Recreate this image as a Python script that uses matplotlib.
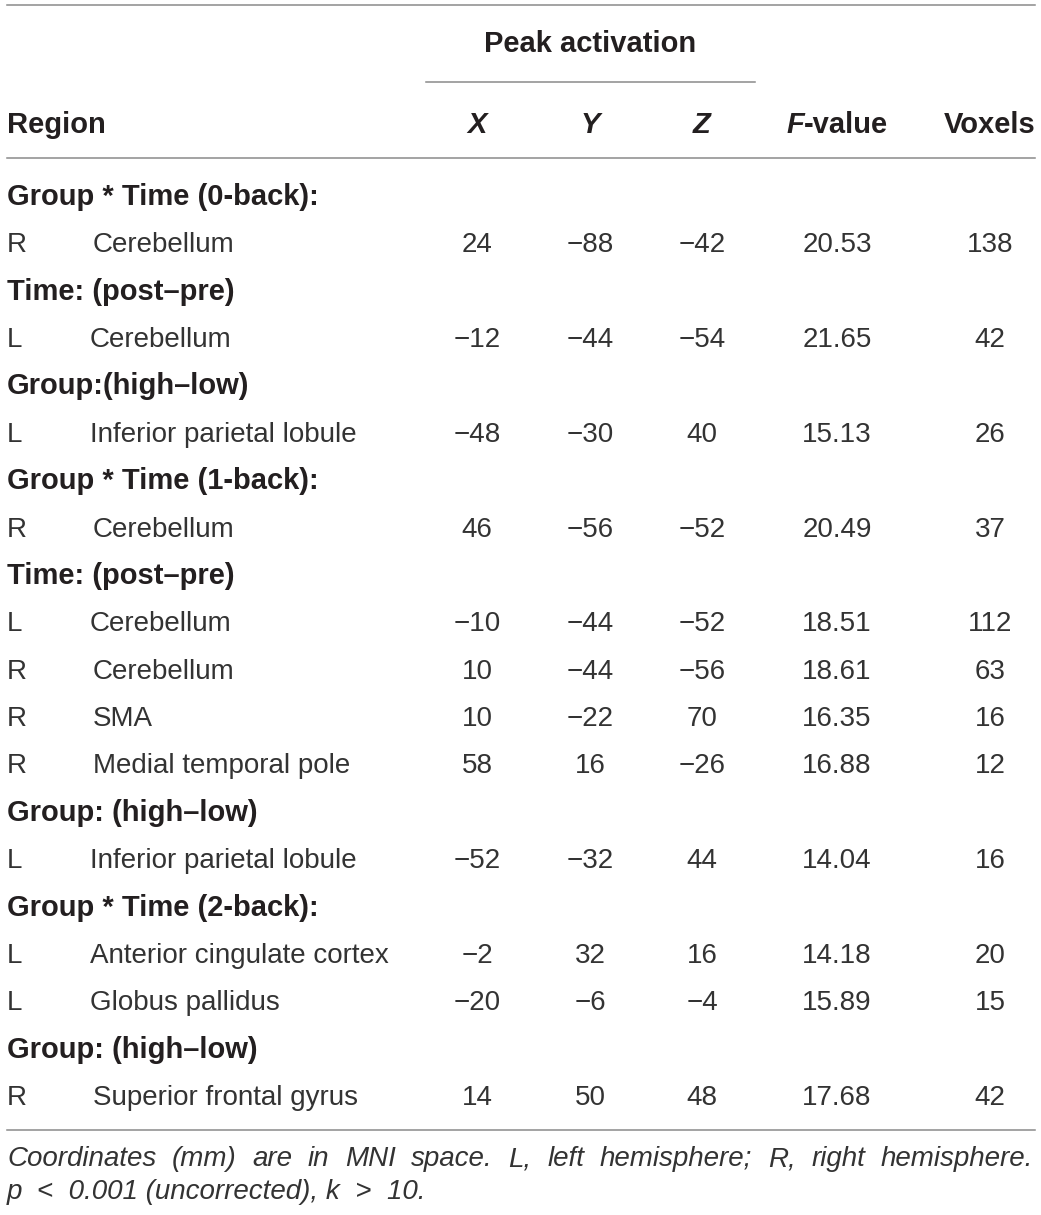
import matplotlib.pyplot as plt
from matplotlib.lines import Line2D

# table content
section_titles = {
    0: "Group * Time (0-back):",
    2: "Time: (post\u2013pre)",
    4: "Group:(high\u2013low)",
    6: "Group * Time (1-back):",
    8: "Time: (post\u2013pre)",
    13: "Group: (high\u2013low)",
    15: "Group * Time (2-back):",
    18: "Group: (high\u2013low)",
}
hemis = ["R", "L", "L", "R", "L", "R", "R", "R", "L", "L", "L", "R"]
regions = ["Cerebellum", "Cerebellum", "Inferior parietal lobule", "Cerebellum",
           "Cerebellum", "Cerebellum", "SMA", "Medial temporal pole",
           "Inferior parietal lobule", "Anterior cingulate cortex",
           "Globus pallidus", "Superior frontal gyrus"]
x_vals = ["24", "\u221212", "\u221248", "46", "\u221210", "10", "10", "58", "\u221252", "\u22122", "\u221220", "14"]
y_vals = ["\u221288", "\u221244", "\u221230", "\u221256", "\u221244", "\u221244", "\u221222", "16", "\u221232", "32", "\u22126", "50"]
z_vals = ["\u221242", "\u221254", "40", "\u221252", "\u221252", "\u221256", "70", "\u221226", "44", "16", "\u22124", "48"]
f_vals = ["20.53", "21.65", "15.13", "20.49", "18.51", "18.61", "16.35", "16.88", "14.04", "14.18", "15.89", "17.68"]
voxels = ["138", "42", "26", "37", "112", "63", "16", "12", "16", "20", "15", "42"]

W, H = 1041, 1215
fig = plt.figure(figsize=(W / 100, H / 100), dpi=100)
fig.patch.set_facecolor("white")
plt.rcParams["font.family"] = ["Liberation Sans", "DejaVu Sans"]

TXT = "#231f20"
TXT_LIGHT = "#333333"
LINE = "#8a8a8a"
FS = 20
FS_BOLD = 21


def fx(px):
    return px / W


def fy(py):
    return 1 - py / H


def hline(x0, x1, y, lw=1.1):
    fig.add_artist(Line2D([fx(x0), fx(x1)], [fy(y), fy(y)], color=LINE, lw=lw))


def put(x, y, s, ha="left", bold=False, **kw):
    kw.setdefault("fontsize", FS_BOLD if bold else FS)
    kw.setdefault("color", TXT if bold else TXT_LIGHT)
    return fig.text(fx(x), fy(y), s, ha=ha, va="baseline",
                    fontweight="bold" if bold else "normal", **kw)


col_x = [477, 590, 702, 837, 990]

# header
hline(7, 1035, 5)
put(590, 52, "Peak activation", ha="center", bold=True)
hline(426, 755, 82)
put(7, 133, "Region", bold=True)
for cx, lab in zip(col_x[:3], ["X", "Y", "Z"]):
    put(cx, 133, lab, ha="center", bold=True, fontstyle="italic")
f_a = put(0, 133, "F", bold=True, fontstyle="italic")
f_b = put(0, 133, "-value", bold=True)
put(990, 133, "Voxels", ha="center", bold=True)
hline(7, 1035, 158)

row_y0, row_dy = 205, 47.37
data_i = 0
for r in range(20):
    y = row_y0 + r * row_dy
    if r in section_titles:
        put(7, y, section_titles[r], bold=True)
    else:
        put(7, y, hemis[data_i])
        put(90 if hemis[data_i] == "L" else 93, y, regions[data_i])
        vals = [x_vals[data_i], y_vals[data_i], z_vals[data_i], f_vals[data_i], voxels[data_i]]
        for cx, v in zip(col_x, vals):
            put(cx, y, v, ha="center")
        data_i += 1

hline(7, 1035, 1130)

# footnote, first line justified across the width
note1 = "Coordinates (mm) are in MNI space. L, left hemisphere; R, right hemisphere."
note2 = "p  <  0.001 (uncorrected), k  >  10."
words = note1.split(" ")
arts = [put(7, 1166, w, fontstyle="italic") for w in words]
put(7, 1199, note2, fontstyle="italic")

fig.canvas.draw()
rend = fig.canvas.get_renderer()
widths = [a.get_window_extent(rend).width for a in arts]
gap = (1033 - 7 - sum(widths)) / (len(words) - 1)
xpos = 7
for a, w in zip(arts, widths):
    a.set_x(fx(xpos))
    xpos += w + gap

# centre the two-part "F-value" header on its column
wa = f_a.get_window_extent(rend).width
wb = f_b.get_window_extent(rend).width
start = col_x[3] - (wa + wb) / 2
f_a.set_x(fx(start))
f_b.set_x(fx(start + wa))

fig.savefig("out.png", dpi=100, facecolor="white")
